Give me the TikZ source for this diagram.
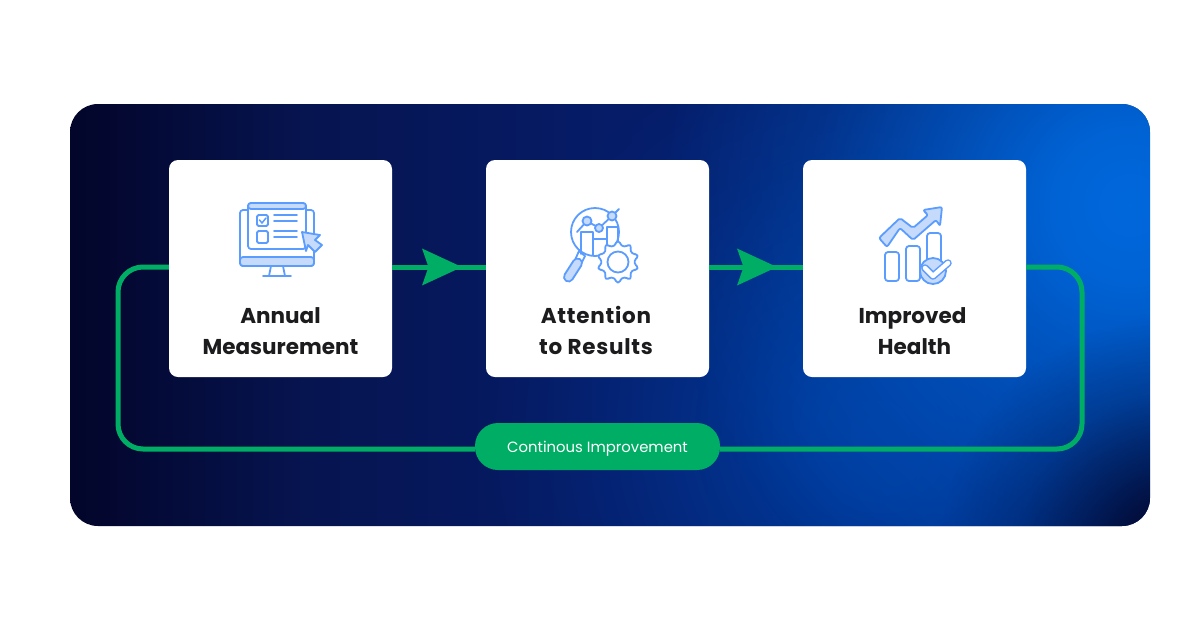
\documentclass[tikz,border=0pt]{standalone}
\usepackage{fontspec}
\setmainfont{Poppins}
\usetikzlibrary{arrows.meta,fadings}
\definecolor{grn}{HTML}{00AD65}
\definecolor{ico}{HTML}{5B9DFF}
\definecolor{icol}{HTML}{C6DAFC}
\definecolor{ink}{HTML}{1C1C1E}
\definecolor{bga}{HTML}{03052A}
\definecolor{bgb}{HTML}{061450}
\definecolor{bgc}{HTML}{061C68}
\definecolor{bgd}{HTML}{05206E}
\definecolor{bge}{HTML}{04297F}
\definecolor{glow}{HTML}{0068DC}
\definecolor{glowb}{HTML}{003C9E}
\definecolor{dark}{HTML}{02052A}
\pgfdeclarehorizontalshading{bgh}{100bp}{color(0bp)=(bga); color(25bp)=(bga); color(36bp)=(bgb); color(50bp)=(bgc); color(62bp)=(bgd); color(75bp)=(bge); color(100bp)=(bge)}
\pgfdeclareradialshading{softshade}{\pgfpoint{0bp}{0bp}}{color(0bp)=(transparent!0); color(4bp)=(transparent!8); color(10bp)=(transparent!42); color(17bp)=(transparent!78); color(25bp)=(transparent!100); color(50bp)=(transparent!100)}
\pgfdeclarefading{softglow}{\pgfuseshading{softshade}}
\tikzset{
  x=1pt,y=-1pt,
  card/.style={fill=white,rounded corners=9pt,minimum width=223pt,minimum height=217pt,inner sep=0pt},
  cardtext/.style={font=\fontsize{21.5}{31}\selectfont\bfseries,text=ink,align=center,inner sep=0pt},
  flow/.style={draw=grn,line width=5pt},
  flowtip/.style={flow,-{Stealth[length=39.5pt,width=36pt,inset=6pt]}},
  pill/.style={fill=grn,rounded corners=23pt,minimum width=245pt,minimum height=47pt,inner sep=0pt,text=white,text height=12pt,text depth=0pt,font=\fontsize{14.85}{18}\selectfont},
  ln/.style={draw=ico,line width=1.8pt,line join=round,line cap=round},
  lnw/.style={ln,fill=white},
  lnl/.style={ln,fill=icol}
}
\begin{document}
\begin{tikzpicture}
\useasboundingbox (0,0) rectangle (1200,630);
\fill[white] (0,0) rectangle (1200,630);
% panel
\begin{scope}
\clip[rounded corners=28pt] (70,104) rectangle (1150,526);
\shade[shading=bgh] (70,104) rectangle (1150,526);
\fill[glowb,path fading=softglow] (880,430) circle[radius=400];
\fill[glow,path fading=softglow] (1130,205) circle[radius=470];
\fill[dark,path fading=softglow] (1180,555) circle[radius=240];
\end{scope}
% nodes
\node[card] (a) at (280.5,268.5) {};
\node[card] (b) at (597.5,268.5) {};
\node[card] (c) at (914.5,268.5) {};
\node[cardtext] (ta) at (280.5,331) {Annual\\Measurement};
\node[cardtext,font=\fontsize{21.5}{31}\selectfont\bfseries\addfontfeature{LetterSpace=3.5}] (tb) at (596,330) {Attention\\to Results};
\node[cardtext] (tc) at (912.5,331) {Improved\\\hspace*{4pt}Health};
\node[pill] (p) at (597.5,446.5) {Continous Improvement};
\coordinate (t1) at (462,267);
\coordinate (t2) at (777,267);
\coordinate (lc) at (118,449);
\coordinate (rc) at (1082,449);
% connectors
\draw[flow] (a.east |- t1) -- (b.west |- t1);
\draw[flowtip] (a.east |- t1) -- (t1);
\draw[flow] (b.east |- t2) -- (c.west |- t2);
\draw[flowtip] (b.east |- t2) -- (t2);
\draw[flow,rounded corners=25pt] (c.east |- t1) -- (rc |- t1) -- (rc) -- (p.east |- rc);
\draw[flow,rounded corners=25pt] (p.west |- lc) -- (lc) -- (lc |- t1) -- (a.west |- t1);
% icon 1
\draw[ln,fill=white,rounded corners=3pt] (240,210) rectangle (314,266);
\draw[lnl,rounded corners=3pt] (240,257) -- (240,266) -- (314,266) -- (314,257) -- cycle;
\draw[lnw] (269,276) -- (271,266) -- (283,266) -- (285,276);
\draw[ln] (263,276) -- (291,276);
\draw[lnw,rounded corners=3pt] (248,203) rectangle (306,249);
\draw[lnl,rounded corners=3pt] (248,209) -- (248,203) -- (306,203) -- (306,209) -- cycle;
\draw[lnw,rounded corners=1.5pt] (257,215) rectangle (268,226);
\draw[lnw,rounded corners=1.5pt] (257,231) rectangle (268,243);
\draw[ln,line width=1.5pt] (259.5,220) -- (262,223) -- (266,218);
\draw[ln] (274,215) -- (297,215) (274,221) -- (297,221) (274,231) -- (297,231) (274,237) -- (297,237);
\draw[lnl] (302,232) -- (320,235) -- (315,240) -- (322,245) -- (315,252) -- (308,245) -- (306,251) -- cycle;
% icon 2
\draw[lnw] (579,251) -- (585,256) -- (581,264) -- (575,260) -- cycle;
\draw[draw=ico,line width=11pt,line cap=round] (568.5,277) -- (577.5,263);
\draw[draw=icol,line width=7pt,line cap=round] (568.5,277) -- (577.5,263);
\draw[lnw] (595,232) circle[radius=24];
\draw[ln] (581,254) -- (581,232) -- (593,232) -- (593,255);
\draw[ln] (593,239) -- (607,239);
\draw[ln] (607,251) -- (607,227) -- (618,227) -- (618,243);
\draw[ln] (577,232) -- (587,221) -- (599,228) -- (612,216) -- (619,209);
\draw[lnl] (587,221) circle[radius=4.5];
\draw[lnl] (599,228) circle[radius=4];
\draw[lnl] (612,216) circle[radius=4.5];
\begin{scope}[shift={(618,262)}]
\draw[lnw,rounded corners=1.5pt] (9:17) \foreach \g in {0,36,...,324}{ -- ({\g+9}:17) -- ({\g+13}:20.5) -- ({\g+23}:20.5) -- ({\g+27}:17) } -- cycle;
\draw[ln] (0,0) circle[radius=10.5];
\end{scope}
% icon 3
\draw[ln,rounded corners=3pt] (885,281) rectangle (899,252);
\draw[ln,rounded corners=3pt] (906,281) rectangle (920,246);
\draw[ln,rounded corners=3pt] (927,262) -- (927,233) -- (941,233) -- (941,262);
\draw[lnl,rounded corners=2pt] (879,238) -- (900,218) -- (913,228) -- (928,215) -- (923,210) -- (942,207) -- (940,226) -- (936,220) -- (913,240) -- (900,228) -- (887,247) -- cycle;
\draw[lnl] (933,271) circle[radius=13];
\draw[draw=ico,line width=7.5pt,line cap=round,line join=round] (925,268) -- (933,276) -- (948,263);
\draw[draw=white,line width=4.5pt,line cap=round,line join=round] (925,268) -- (933,276) -- (948,263);
\end{tikzpicture}
\end{document}
